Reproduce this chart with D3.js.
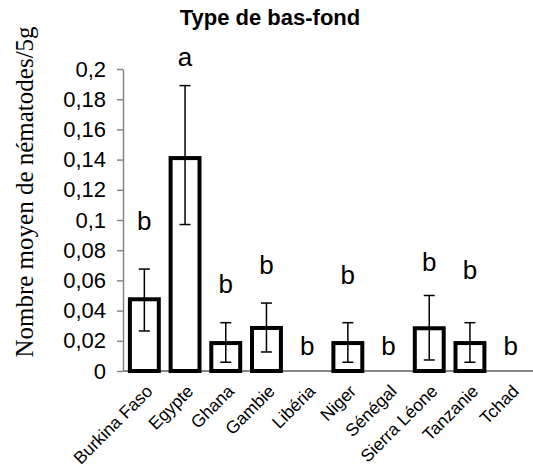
<!DOCTYPE html>
<html>
<head>
<meta charset="utf-8">
<script src="https://cdn.jsdelivr.net/npm/d3@7"></script>
<style>
  body { margin: 0; background: #fff; }
  text { font-family: Arial, "Liberation Sans", sans-serif; fill: #000; }
</style>
</head>
<body>
<div id="chart"></div>
<script>
'use strict';

// Data
const countries = ['Burkina Faso', 'Egypte', 'Ghana', 'Gambie', 'Libéria', 'Niger', 'Sénégal', 'Sierra Léone', 'Tanzanie', 'Tchad'];
const means = [0.0475, 0.141, 0.0185, 0.0285, 0, 0.0185, 0, 0.0283, 0.0185, 0];
const errHigh = [0.0675, 0.189, 0.032, 0.045, null, 0.032, null, 0.050, 0.032, null];
const errLow = [0.0265, 0.097, 0.0058, 0.0126, null, 0.0058, null, 0.0073, 0.0058, null];
const letters = ['b', 'a', 'b', 'b', 'b', 'b', 'b', 'b', 'b', 'b'];
const letterAt = [0.0934, 0.202, 0.0515, 0.064, 0.0106, 0.0574, 0.0106, 0.066, 0.0607, 0.0106];
const yTicks = [0, 0.02, 0.04, 0.06, 0.08, 0.1, 0.12, 0.14, 0.16, 0.18, 0.2];

const W = 533, H = 475;
const axisX = 123;

const svg = d3.select('#chart').append('svg')
  .attr('width', W)
  .attr('height', H);

const x = d3.scaleBand().domain(countries).range([124, 531]).paddingInner(0.29).paddingOuter(0.145);
const y = d3.scaleLinear().domain([0, 0.2]).range([371, 69]);

// Y axis
const yAxis = svg.append('g')
  .attr('transform', `translate(${axisX},0)`)
  .call(d3.axisLeft(y).tickValues(yTicks).tickSize(6).tickSizeOuter(0)
    .tickFormat(d => d3.format('')(d).replace('.', ',')));
yAxis.select('.domain').attr('stroke', '#868686').attr('stroke-width', 1.5);
yAxis.selectAll('.tick line').attr('stroke', '#868686').attr('stroke-width', 1.5);
yAxis.selectAll('.tick text').attr('x', -17).attr('font-size', 22).attr('font-family', 'Arial, "Liberation Sans", sans-serif');

// X axis line
svg.append('line')
  .attr('x1', axisX).attr('x2', W)
  .attr('y1', y(0)).attr('y2', y(0))
  .attr('stroke', '#868686').attr('stroke-width', 2);

// Bars
svg.selectAll('.bar')
  .data(countries)
  .join('rect')
  .attr('class', 'bar')
  .attr('x', d => x(d))
  .attr('width', x.bandwidth())
  .attr('y', (d, i) => y(means[i]))
  .attr('height', (d, i) => y(0) - y(means[i]))
  .attr('fill', '#fff')
  .attr('stroke', '#000')
  .attr('stroke-width', 4)
  .style('display', (d, i) => means[i] > 0 ? null : 'none');

// Error bars
const eb = svg.selectAll('.err')
  .data(countries.map((c, i) => ({ c, lo: errLow[i], hi: errHigh[i] })).filter(d => d.hi != null))
  .join('g')
  .attr('class', 'err')
  .attr('stroke', '#000')
  .attr('stroke-width', 1.5);
eb.append('line')
  .attr('x1', d => x(d.c) + x.bandwidth() / 2).attr('x2', d => x(d.c) + x.bandwidth() / 2)
  .attr('y1', d => y(d.lo)).attr('y2', d => y(d.hi));
eb.append('line')
  .attr('x1', d => x(d.c) + x.bandwidth() / 2 - 5.5).attr('x2', d => x(d.c) + x.bandwidth() / 2 + 5.5)
  .attr('y1', d => y(d.hi)).attr('y2', d => y(d.hi));
eb.append('line')
  .attr('x1', d => x(d.c) + x.bandwidth() / 2 - 5.5).attr('x2', d => x(d.c) + x.bandwidth() / 2 + 5.5)
  .attr('y1', d => y(d.lo)).attr('y2', d => y(d.lo));

// Significance letters
svg.selectAll('.letter')
  .data(countries)
  .join('text')
  .attr('class', 'letter')
  .attr('x', d => x(d) + x.bandwidth() / 2)
  .attr('y', (d, i) => y(letterAt[i]))
  .attr('text-anchor', 'middle')
  .attr('font-size', 26)
  .text((d, i) => letters[i]);

// Category labels
svg.selectAll('.cat')
  .data(countries)
  .join('text')
  .attr('class', 'cat')
  .attr('transform', d => `translate(${x(d) + x.bandwidth() / 2 + 5},${y(0) + 17}) rotate(-45)`)
  .attr('text-anchor', 'end')
  .attr('dy', '0.35em')
  .attr('font-size', 17.5)
  .text(d => d);

// Title
svg.append('text')
  .attr('x', 270)
  .attr('y', 25)
  .attr('text-anchor', 'middle')
  .attr('font-size', 22)
  .attr('font-weight', 'bold')
  .text('Type de bas-fond');

// Y axis title
svg.append('text')
  .attr('transform', 'translate(33,192) rotate(-90)')
  .attr('text-anchor', 'middle')
  .attr('font-size', 25)
  .style('font-family', '"Liberation Serif", "Times New Roman", serif')
  .text('Nombre moyen de nématodes/5g');
</script>
</body>
</html>
